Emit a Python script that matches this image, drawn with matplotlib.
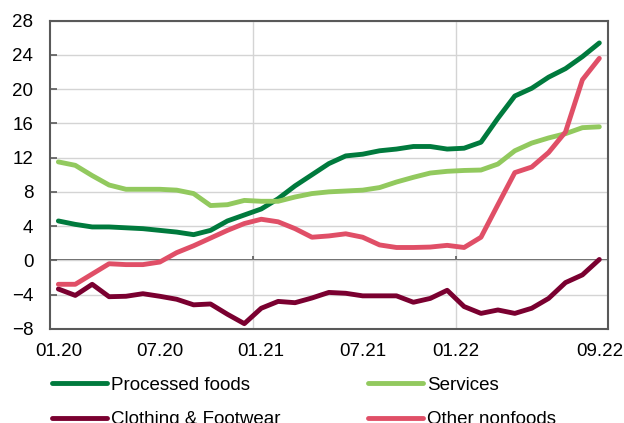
import numpy as np
import matplotlib.pyplot as plt

plt.rcParams['font.family'] = ['Liberation Sans', 'DejaVu Sans']

# monthly data 01.20 .. 09.22
months = ['01.20', '02.20', '03.20', '04.20', '05.20', '06.20', '07.20', '08.20', '09.20',
          '10.20', '11.20', '12.20', '01.21', '02.21', '03.21', '04.21', '05.21', '06.21',
          '07.21', '08.21', '09.21', '10.21', '11.21', '12.21', '01.22', '02.22', '03.22',
          '04.22', '05.22', '06.22', '07.22', '08.22', '09.22']

processed_foods = [4.6, 4.2, 3.9, 3.9, 3.8, 3.7, 3.5, 3.3, 3.0, 3.5, 4.6, 5.3,
                   6.0, 7.2, 8.7, 10.0, 11.3, 12.2, 12.4, 12.8, 13.0, 13.3, 13.3, 13.0,
                   13.1, 13.8, 16.6, 19.2, 20.1, 21.4, 22.4, 23.8, 25.4]
services = [11.5, 11.1, 9.9, 8.8, 8.3, 8.3, 8.3, 8.2, 7.8, 6.4, 6.5, 7.0,
            6.9, 6.9, 7.4, 7.8, 8.0, 8.1, 8.2, 8.5, 9.15, 9.7, 10.2, 10.4,
            10.5, 10.55, 11.25, 12.8, 13.7, 14.3, 14.8, 15.5, 15.6]
clothing = [-3.35, -4.1, -2.8, -4.25, -4.2, -3.9, -4.2, -4.55, -5.2, -5.1, -6.3, -7.4,
            -5.6, -4.8, -4.95, -4.4, -3.75, -3.85, -4.15, -4.15, -4.15, -4.9, -4.45, -3.5,
            -5.4, -6.2, -5.8, -6.2, -5.6, -4.45, -2.6, -1.7, 0.1]
other_nonfoods = [-2.8, -2.8, -1.6, -0.4, -0.5, -0.5, -0.2, 0.9, 1.7, 2.6, 3.5, 4.3,
                  4.8, 4.5, 3.7, 2.7, 2.85, 3.1, 2.7, 1.8, 1.5, 1.5, 1.55, 1.75,
                  1.5, 2.7, 6.5, 10.25, 10.9, 12.6, 15.0, 21.1, 23.6]

tick_labels = ['01.20', '07.20', '01.21', '07.21', '01.22', '09.22']
tick_pos = [0, 6, 12, 18, 23.5, 32]

x = np.arange(len(months))
axis_col = '#595959'
grid_col = '#d4d4d4'

fig = plt.figure(figsize=(6.24, 4.23), dpi=100)
ax = fig.add_axes([0.080, 0.2227, 0.894, 0.7284])

ax.set_xlim(-0.5, 32.5)
ax.set_ylim(-8, 28)
ax.set_yticks(np.arange(-8, 29, 4))
ax.grid(axis='y', color=grid_col, lw=1.0, zorder=0)
for g in [11.5, 23.5]:
    ax.axvline(g, color=grid_col, lw=1.0, zorder=0)
ax.axhline(0, color=axis_col, lw=1.4, zorder=1)
ax.vlines([11.5, 23.5], 0, 0.55, color=axis_col, lw=1.2, zorder=1)

lw = 3.5
l1, = ax.plot(x, processed_foods, color='#007a3d', lw=lw, solid_capstyle='round', zorder=3)
l2, = ax.plot(x, services, color='#92c95e', lw=lw, solid_capstyle='round', zorder=3)
l3, = ax.plot(x, clothing, color='#7a0030', lw=lw, solid_capstyle='round', zorder=3)
l4, = ax.plot(x, other_nonfoods, color='#e04f67', lw=lw, solid_capstyle='round', zorder=3)

ax.set_xticks(tick_pos)
ax.set_xticklabels(tick_labels)
ax.tick_params(axis='x', length=0, pad=10, labelsize=13.5)
ax.tick_params(axis='y', direction='in', length=5, width=1.2, color=axis_col,
               pad=12, labelsize=13.5)
for s in ax.spines.values():
    s.set_color(axis_col)
    s.set_linewidth(1.5)

fig.legend([l1, l3, l2, l4],
           ['Processed foods', 'Clothing & Footwear', 'Services', 'Other nonfoods'],
           ncol=2, loc='upper left', bbox_to_anchor=(0.084, 0.109),
           frameon=False, fontsize=13.5, handlelength=2.9, handletextpad=0.25,
           columnspacing=4.65, labelspacing=0.91, borderpad=0, borderaxespad=0)

fig.savefig('out.png', dpi=100)
